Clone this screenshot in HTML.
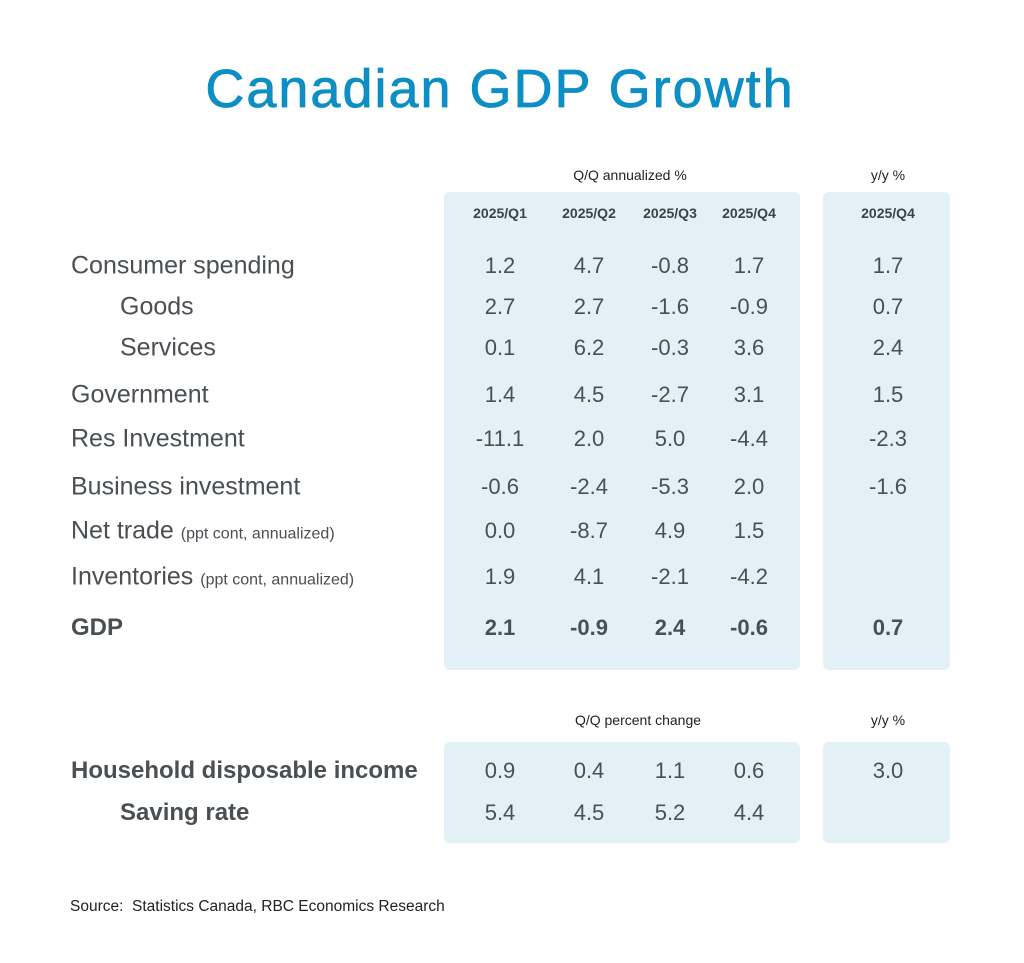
<!DOCTYPE html>
<html><head><meta charset="utf-8">
<style>
body{margin:0;background:#fff;font-family:"Liberation Sans",sans-serif;color:#4a4f54}
#root{position:relative;width:1024px;height:963px;overflow:hidden}
.abs{position:absolute}
.panel{position:absolute;background:#e3f1f7;border-radius:6px}
.num{position:absolute;width:100px;text-align:center;font-size:22px;transform:translate(-50%,-50%);white-space:nowrap}
.hdr{position:absolute;width:100px;text-align:center;font-size:14px;font-weight:bold;transform:translate(-50%,-50%);color:#3d4246}
.lbl{position:absolute;font-size:25px;transform:translateY(-50%);white-space:nowrap}
.lbl small{font-size:16px}
.cap{position:absolute;font-size:14px;transform:translate(-50%,-50%);white-space:nowrap;color:#222}
</style></head><body>
<div id="root">
<div class="abs" style="left:0;width:1000px;top:58px;text-align:center;font-size:54px;color:#0d8ec4;letter-spacing:2px;-webkit-text-stroke:0.8px #0d8ec4">Canadian GDP Growth</div>
<div class="panel" style="left:444px;top:192px;width:356px;height:478px"></div>
<div class="panel" style="left:823px;top:192px;width:127px;height:478px"></div>
<div class="panel" style="left:444px;top:742px;width:356px;height:101px"></div>
<div class="panel" style="left:823px;top:742px;width:127px;height:101px"></div>
<div class="cap" style="left:630px;top:175px">Q/Q annualized %</div>
<div class="cap" style="left:888px;top:175px">y/y %</div>
<div class="cap" style="left:638px;top:720px">Q/Q percent change</div>
<div class="cap" style="left:888px;top:720px">y/y %</div>
<div class="abs" style="left:70px;top:898px;font-size:15.5px;color:#222">Source:&nbsp; Statistics Canada, RBC Economics Research</div>
</div>
<script>
const headers=["2025/Q1","2025/Q2","2025/Q3","2025/Q4","2025/Q4"];
const labels=["Consumer spending","Goods","Services","Government","Res Investment","Business investment","Net trade","Inventories","GDP"];
const notes=["","","","","","","(ppt cont, annualized)","(ppt cont, annualized)",""];
const q1=["1.2","2.7","0.1","1.4","-11.1","-0.6","0.0","1.9","2.1"];
const q2=["4.7","2.7","6.2","4.5","2.0","-2.4","-8.7","4.1","-0.9"];
const q3=["-0.8","-1.6","-0.3","-2.7","5.0","-5.3","4.9","-2.1","2.4"];
const q4=["1.7","-0.9","3.6","3.1","-4.4","2.0","1.5","-4.2","-0.6"];
const yy=["1.7","0.7","2.4","1.5","-2.3","-1.6","","","0.7"];
const incLabels=["Household disposable income","Saving rate"];
const incQ1=["0.9","5.4"],incQ2=["0.4","4.5"],incQ3=["1.1","5.2"],incQ4=["0.6","4.4"],incYY=["3.0",""];
const root=document.getElementById('root');
const colX=[500,589,670,749,888];
const rowY=[266,307,348,395,439,487,531,577,628];
const indent=[0,1,1,0,0,0,0,0,0];
const incY=[771,813];
function add(cls,txt,x,y,extra){const d=document.createElement('div');d.className=cls;d.innerHTML=txt;d.style.left=x+'px';d.style.top=y+'px';if(extra)d.style.cssText+=extra;root.appendChild(d);return d;}
headers.forEach((h,i)=>{const d=add('hdr',h,colX[i],213);

});
const cols=[q1,q2,q3,q4,yy];
labels.forEach((l,r)=>{const bold=r===8;
const d=add('lbl',l+(notes[r]?' <small>'+notes[r]+'</small>':''),indent[r]?120:71,rowY[r],bold?'font-weight:bold;font-size:24px':'');


cols.forEach((c,ci)=>{if(!c[r])return;const n=add('num',c[r],colX[ci],rowY[r],bold?'font-weight:bold':'');

});});
const icols=[incQ1,incQ2,incQ3,incQ4,incYY];
incLabels.forEach((l,r)=>{const d=add('lbl',l,r?120:71,incY[r],'font-weight:bold;font-size:24px');


icols.forEach((c,ci)=>{if(!c[r])return;const n=add('num',c[r],colX[ci],incY[r]);

});});
</script>
</body></html>
